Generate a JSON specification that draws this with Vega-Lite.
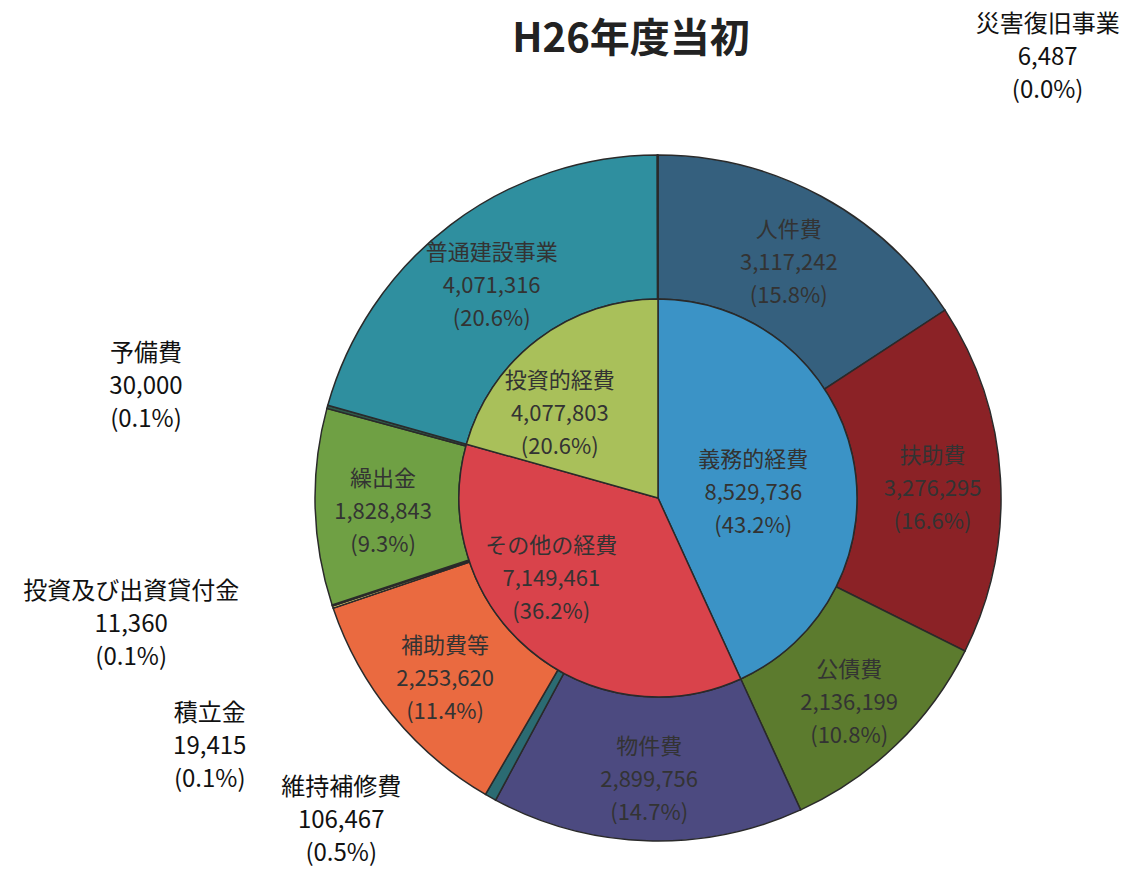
{
  "$schema": "https://vega.github.io/schema/vega-lite/v6.json",
  "width": 944,
  "height": 700,
  "autosize": "none",
  "padding": {"left": 186, "top": 148, "right": 1, "bottom": 24},
  "background": "white",
  "config": {"view": {"stroke": null}, "font": "Noto Sans CJK JP"},
  "title": {"text": "H26年度当初", "fontSize": 40, "fontWeight": "bold", "font": "Noto Sans CJK JP", "color": "#222222", "offset": -47, "dx": -27, "frame": "group"},
  "resolve": {"scale": {"color": "independent"}},
  "datasets": {
    "inner": [
      {"i": 1, "name": "義務的経費", "value": 8529736, "label": "義務的経費\n8,529,736\n(43.2%)"},
      {"i": 2, "name": "その他の経費", "value": 7149461, "label": "その他の経費\n7,149,461\n(36.2%)"},
      {"i": 3, "name": "投資的経費", "value": 4077803, "label": "投資的経費\n4,077,803\n(20.6%)"}
    ],
    "outer": [
      {"i": 1, "name": "人件費", "value": 3117242, "label": "人件費\n3,117,242\n(15.8%)"},
      {"i": 2, "name": "扶助費", "value": 3276295, "label": "扶助費\n3,276,295\n(16.6%)"},
      {"i": 3, "name": "公債費", "value": 2136199, "label": "公債費\n2,136,199\n(10.8%)"},
      {"i": 4, "name": "物件費", "value": 2899756, "label": "物件費\n2,899,756\n(14.7%)"},
      {"i": 5, "name": "維持補修費", "value": 106467, "label": "維持補修費\n106,467\n(0.5%)"},
      {"i": 6, "name": "補助費等", "value": 2253620, "label": "補助費等\n2,253,620\n(11.4%)"},
      {"i": 7, "name": "積立金", "value": 19415, "label": "積立金\n19,415\n(0.1%)"},
      {"i": 8, "name": "投資及び出資貸付金", "value": 11360, "label": "投資及び出資貸付金\n11,360\n(0.1%)"},
      {"i": 9, "name": "繰出金", "value": 1828843, "label": "繰出金\n1,828,843\n(9.3%)"},
      {"i": 10, "name": "予備費", "value": 30000, "label": "予備費\n30,000\n(0.1%)"},
      {"i": 11, "name": "普通建設事業", "value": 4071316, "label": "普通建設事業\n4,071,316\n(20.6%)"},
      {"i": 12, "name": "災害復旧事業", "value": 6487, "label": "災害復旧事業\n6,487\n(0.0%)"}
    ]
  },
  "layer": [
    {
      "data": {"name": "outer"},
      "mark": {"type": "arc", "innerRadius": 199, "outerRadius": 343, "stroke": "#2a2a2a", "strokeWidth": 1.5},
      "encoding": {
        "theta": {"field": "value", "type": "quantitative", "stack": true},
        "order": {"field": "i", "type": "quantitative"},
        "color": {"field": "name", "type": "nominal", "legend": null,
          "scale": {"domain": ["人件費", "扶助費", "公債費", "物件費", "維持補修費", "補助費等", "積立金", "投資及び出資貸付金", "繰出金", "予備費", "普通建設事業", "災害復旧事業"],
                    "range": ["#35607e", "#8b2226", "#5c7b2e", "#4c4a80", "#2b6b72", "#ea6a40", "#f2e27a", "#3d5a30", "#6fa044", "#2f5a4a", "#2f8f9f", "#2f5b70"]}}
      }
    },
    {
      "data": {"name": "inner"},
      "mark": {"type": "arc", "innerRadius": 0, "outerRadius": 199, "stroke": "#2a2a2a", "strokeWidth": 1.5},
      "encoding": {
        "theta": {"field": "value", "type": "quantitative", "stack": true},
        "order": {"field": "i", "type": "quantitative"},
        "fill": {"field": "name", "type": "nominal", "legend": null,
          "scale": {"domain": ["義務的経費", "その他の経費", "投資的経費"], "range": ["#3b93c6", "#d9434b", "#a9c05a"]}}
      }
    },
    {
      "data": {"name": "inner"},
      "mark": {"type": "text", "radius": 118, "dx": -20, "dy": -13, "fontSize": 22, "lineHeight": 33, "lineBreak": "\n", "align": "center", "baseline": "middle", "color": "#333333"},
      "encoding": {
        "theta": {"field": "value", "type": "quantitative", "stack": true},
        "order": {"field": "i", "type": "quantitative"},
        "text": {"condition": {"test": "datum.name === '義務的経費'", "field": "label"}, "value": ""}
      }
    },
    {
      "data": {"name": "inner"},
      "mark": {"type": "text", "radius": 118, "dx": -30, "dy": -42, "fontSize": 22, "lineHeight": 33, "lineBreak": "\n", "align": "center", "baseline": "middle", "color": "#333333"},
      "encoding": {
        "theta": {"field": "value", "type": "quantitative", "stack": true},
        "order": {"field": "i", "type": "quantitative"},
        "text": {"condition": {"test": "datum.name === 'その他の経費'", "field": "label"}, "value": ""}
      }
    },
    {
      "data": {"name": "inner"},
      "mark": {"type": "text", "radius": 118, "dx": -27, "dy": -23, "fontSize": 22, "lineHeight": 33, "lineBreak": "\n", "align": "center", "baseline": "middle", "color": "#333333"},
      "encoding": {
        "theta": {"field": "value", "type": "quantitative", "stack": true},
        "order": {"field": "i", "type": "quantitative"},
        "text": {"condition": {"test": "datum.name === '投資的経費'", "field": "label"}, "value": ""}
      }
    },
    {
      "data": {"name": "outer"},
      "mark": {"type": "text", "radius": 275, "dy": -26, "fontSize": 22, "lineHeight": 33, "lineBreak": "\n", "align": "center", "baseline": "middle", "color": "#333333"},
      "encoding": {
        "theta": {"field": "value", "type": "quantitative", "stack": true},
        "order": {"field": "i", "type": "quantitative"},
        "text": {"condition": {"test": "datum.value < 200000", "value": ""}, "field": "label"}
      }
    },
    {
      "data": {"name": "outer"},
      "mark": {"type": "text", "radius": 360, "dx": 390, "dy": -113, "fontSize": 24, "lineHeight": 33, "lineBreak": "\n", "align": "center", "baseline": "middle", "color": "#111111"},
      "encoding": {
        "theta": {"field": "value", "type": "quantitative", "stack": true},
        "order": {"field": "i", "type": "quantitative"},
        "text": {"condition": {"test": "datum.name === '災害復旧事業'", "field": "label"}, "value": ""}
      }
    },
    {
      "data": {"name": "outer"},
      "mark": {"type": "text", "radius": 360, "dx": -165, "dy": -48, "fontSize": 24, "lineHeight": 33, "lineBreak": "\n", "align": "center", "baseline": "middle", "color": "#111111"},
      "encoding": {
        "theta": {"field": "value", "type": "quantitative", "stack": true},
        "order": {"field": "i", "type": "quantitative"},
        "text": {"condition": {"test": "datum.name === '予備費'", "field": "label"}, "value": ""}
      }
    },
    {
      "data": {"name": "outer"},
      "mark": {"type": "text", "radius": 360, "dx": -185, "dy": -19, "fontSize": 24, "lineHeight": 33, "lineBreak": "\n", "align": "center", "baseline": "middle", "color": "#111111"},
      "encoding": {
        "theta": {"field": "value", "type": "quantitative", "stack": true},
        "order": {"field": "i", "type": "quantitative"},
        "text": {"condition": {"test": "datum.name === '投資及び出資貸付金'", "field": "label"}, "value": ""}
      }
    },
    {
      "data": {"name": "outer"},
      "mark": {"type": "text", "radius": 360, "dx": -107, "dy": 101, "fontSize": 24, "lineHeight": 33, "lineBreak": "\n", "align": "center", "baseline": "middle", "color": "#111111"},
      "encoding": {
        "theta": {"field": "value", "type": "quantitative", "stack": true},
        "order": {"field": "i", "type": "quantitative"},
        "text": {"condition": {"test": "datum.name === '積立金'", "field": "label"}, "value": ""}
      }
    },
    {
      "data": {"name": "outer"},
      "mark": {"type": "text", "radius": 360, "dx": -141, "dy": -24, "fontSize": 24, "lineHeight": 33, "lineBreak": "\n", "align": "center", "baseline": "middle", "color": "#111111"},
      "encoding": {
        "theta": {"field": "value", "type": "quantitative", "stack": true},
        "order": {"field": "i", "type": "quantitative"},
        "text": {"condition": {"test": "datum.name === '維持補修費'", "field": "label"}, "value": ""}
      }
    }
  ]
}
